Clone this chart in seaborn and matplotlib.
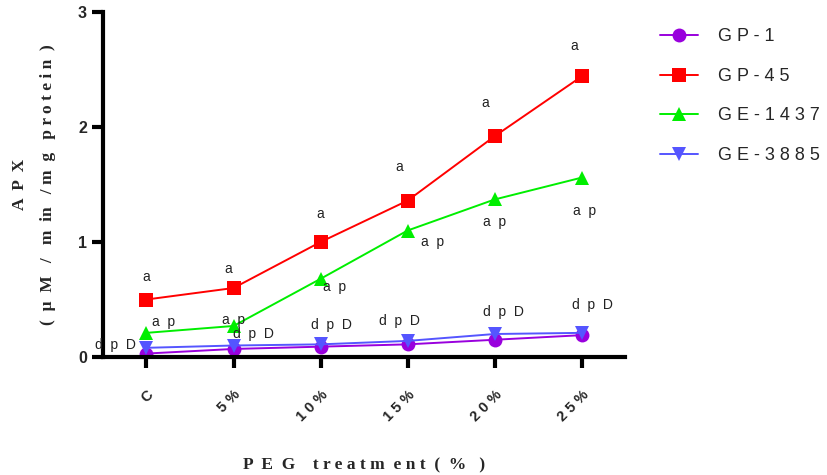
import matplotlib
matplotlib.use("Agg")
import matplotlib.pyplot as plt
import seaborn as sns
import pandas as pd

categories = ["C", "5 %", "1 0 %", "1 5 %", "2 0 %", "2 5 %"]
series_names = ["G P - 1", "G P - 4 5", "G E - 1 4 3 7", "G E - 3 8 8 5"]
gp1 = [0.03, 0.07, 0.09, 0.11, 0.15, 0.19]
gp45 = [0.50, 0.60, 1.00, 1.36, 1.92, 2.44]
ge1437 = [0.21, 0.27, 0.68, 1.10, 1.37, 1.56]
ge3885 = [0.08, 0.10, 0.11, 0.14, 0.20, 0.21]
labels_gp45 = ["a"] * 6
labels_ge1437 = ["a  p"] * 6
labels_ge3885 = ["d  p  D"] * 6

values = [gp1, gp45, ge1437, ge3885]
rows = []
for name, vals in zip(series_names, values):
    for i, v in enumerate(vals):
        rows.append({"x": i, "y": v, "series": name})
df = pd.DataFrame(rows)

sns.set_theme(style="white")
plt.rcParams['font.family'] = ['Liberation Sans', 'DejaVu Sans']

fig = plt.figure(figsize=(8.27, 4.75), dpi=100)
ax = fig.add_axes([0.1245, 0.2484, 0.6315, 0.7263])

palette = {series_names[0]: "#9900dd", series_names[1]: "#ff0000",
           series_names[2]: "#00ee00", series_names[3]: "#5555ff"}
markers = {series_names[0]: "o", series_names[1]: "s",
           series_names[2]: "^", series_names[3]: "v"}
sns.lineplot(data=df, x="x", y="y", hue="series", style="series",
             palette=palette, markers=markers, dashes=False,
             markersize=10, markeredgewidth=0, linewidth=1.4, ax=ax,
             hue_order=series_names, style_order=series_names)

ax.set_xlim(-0.5, 5.5)
ax.set_ylim(0, 3)
ax.set_yticks([0, 1, 2, 3])
ax.set_yticklabels(["0", "1", "2", "3"], fontsize=11.5, fontweight="bold")
ax.set_xticks(range(len(categories)))
ax.set_xticklabels(categories, rotation=45, ha="right", rotation_mode="anchor",
                   fontsize=10.5, fontweight="bold")
for s in ["top", "right"]:
    ax.spines[s].set_visible(False)
for s in ["left", "bottom"]:
    ax.spines[s].set_linewidth(3)
    ax.spines[s].set_color("black")
ax.tick_params(axis="both", direction="out", length=8, width=3, color="black",
               bottom=True, left=True)
ax.tick_params(axis="x", pad=14)

ax.set_xlabel("P  E  G    t r e a t m  e n t  (  %   )", fontsize=12.5, fontweight="bold",
              family="Liberation Serif", labelpad=24)
ax.set_ylabel("A  P  X\n(  µ  M   /   m  in   / m  g   p r o t e i n  )", fontsize=12.5,
              fontweight="bold", family="Liberation Serif", labelpad=16,
              linespacing=2.0)

# annotations
off45 = [(0, 16), (-4, 14), (0, 20), (-6, 24), (-7, 24), (-5, 22)]
off1437 = [(12, 8), (0, 4), (10, -6), (18, -8), (0, -16), (2, -24)]
off3885 = [(-22, 2), (14, 8), (8, 14), (-6, 14), (6, 16), (8, 20)]
for i in range(6):
    ax.annotate(labels_gp45[i], (i, gp45[i]), xytext=off45[i], textcoords="offset points",
                ha="center", va="center", fontsize=10, color="#222222")
    ax.annotate(labels_ge1437[i], (i, ge1437[i]), xytext=off1437[i], textcoords="offset points",
                ha="center", va="center", fontsize=10, color="#222222")
    ax.annotate(labels_ge3885[i], (i, ge3885[i]), xytext=off3885[i], textcoords="offset points",
                ha="center", va="center", fontsize=10, color="#222222", clip_on=False)

leg = ax.legend(loc="upper left", bbox_to_anchor=(1.035, 1.0), frameon=False,
                fontsize=13, handlelength=2.1, labelspacing=1.25, handletextpad=1.1)

fig.savefig("out.png", dpi=100)
